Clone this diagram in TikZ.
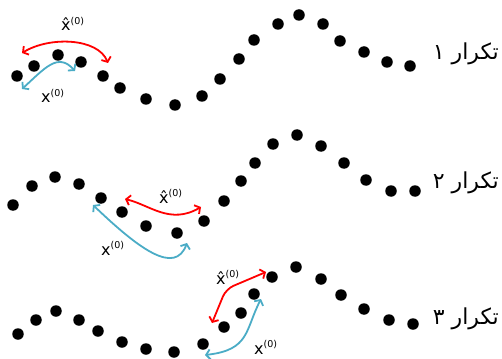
\documentclass[tikz,border=0pt]{standalone}
\usepackage{fontspec}
\setmainfont{DejaVu Sans}
\newfontfamily\arabicfont[Script=Arabic]{DejaVu Sans}
\TeXXeTstate=1
\usetikzlibrary{arrows.meta}
\definecolor{arrowblue}{HTML}{4BACC6}
\newcommand\supz{\raisebox{6.5pt}{\fontsize{9.5}{9.5}\selectfont(0)}}
\begin{document}
\begin{tikzpicture}[x=1pt,y=-1pt,
  dot/.style={circle, fill=black, inner sep=0pt, minimum size=11.5pt},
  redarr/.style={draw=red, line width=1.8pt, {Straight Barb[length=4pt,width=10pt]}-{Straight Barb[length=4pt,width=10pt]}},
  bluearr/.style={draw=arrowblue, line width=1.8pt, {Straight Barb[length=4pt,width=10pt]}-{Straight Barb[length=4pt,width=10pt]}},
  lbl/.style={inner sep=0pt, anchor=base west, font=\fontsize{16}{16}\selectfont},
  iter/.style={inner sep=0pt, anchor=east, font=\arabicfont\fontsize{22}{22}\selectfont}]
\useasboundingbox (0,0) rectangle (502,358);
% row 1
\foreach \x/\y [count=\i] in {17/76,34/66,58/55,81/62,103/76,120/88,146/99,175/105,202/96,220/79,239/59,254/40,278/24,299/15,323/24,340/41,364/52,387/62,410/66}
  \node[dot] (a\i) at (\x,\y) {};
% row 2
\foreach \x/\y [count=\i] in {13/205,32/186,55/177,79/184,101/198,122/212,146/226,177/233,204/221,224/201,241/181,255/163,273/144,297/135,321/146,344/163,366/180,391/191,415/191}
  \node[dot] (b\i) at (\x,\y) {};
% row 3
\foreach \x/\y [count=\i] in {18/334,36/320,56/311,79/320,98/331,122/342,146/349,174/352,203/344,224/327,241/313,254/294,272/277,296/267,321/279,341/295,364/309,389/320,413/324}
  \node[dot] (c\i) at (\x,\y) {};
% iteration labels
\node[iter] (t1) at (499,54) {\beginR تکرار ۱\endR};
\node[iter] (t2) at (499,183) {\beginR تکرار ۲\endR};
\node[iter] (t3) at (499,319) {\beginR تکرار ۳\endR};
% arrows row 1
\coordinate (r1a) at (22,53); \coordinate (r1b) at (108,63);
\draw[redarr] (r1a) .. controls (50,36) and (98,38) .. (r1b);
\coordinate (u1a) at (22,89); \coordinate (u1b) at (75,71);
\draw[bluearr] (u1a) .. controls (45,68) and (58,52) .. (u1b);
\node[lbl] (h1) at (61,31) {x̂\supz};
\node[lbl] (x1) at (41,103) {x\supz};
% arrows row 2
\coordinate (r2a) at (125,199); \coordinate (r2b) at (201,207);
\draw[redarr] (r2a) .. controls (150,205) and (170,225) .. (r2b);
\coordinate (u2a) at (93,205); \coordinate (u2b) at (187,243);
\draw[bluearr] (u2a) .. controls (140,250) and (175,275) .. (u2b);
\node[lbl] (h2) at (159,203) {x̂\supz};
\node[lbl] (x2) at (101,255) {x\supz};
% arrows row 3
\coordinate (r3a) at (212,323); \coordinate (r3c) at (226,289); \coordinate (r3b) at (266,272);
\draw[redarr, rounded corners=8pt] (r3a) -- (r3c) -- (r3b);
\coordinate (u3a) at (205,355); \coordinate (u3b) at (261,299);
\draw[bluearr] (u3a) .. controls (250,350) and (245,330) .. (u3b);
\node[lbl] (h3) at (216,284) {x̂\supz};
\node[lbl] (x3) at (254,354) {x\supz};
\end{tikzpicture}
\end{document}
